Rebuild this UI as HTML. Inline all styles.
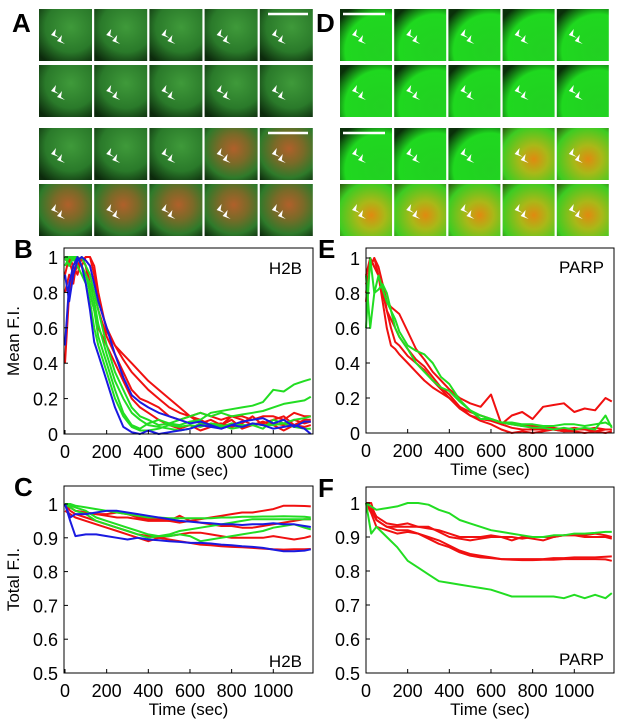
<!DOCTYPE html>
<html><head><meta charset="utf-8"><style>
html,body{margin:0;padding:0;background:#fff;}
svg{display:block;font-family:"Liberation Sans",Arial,sans-serif;}
</style></head><body>
<svg id="fig" width="621" height="727" viewBox="0 0 621 727" xmlns="http://www.w3.org/2000/svg">
<defs>
<radialGradient id="gA" cx="0.6" cy="0.35" r="0.8"><stop offset="0" stop-color="#3f9a3a"/><stop offset="0.6" stop-color="#2a7a2a"/><stop offset="1" stop-color="#0c2a0c"/></radialGradient>
<radialGradient id="gA2" cx="0.55" cy="0.4" r="0.8"><stop offset="0" stop-color="#b0602a"/><stop offset="0.35" stop-color="#7a6a28"/><stop offset="0.7" stop-color="#2e7a2a"/><stop offset="1" stop-color="#0c2a0c"/></radialGradient>
<radialGradient id="gD" cx="0.8" cy="0.8" r="1"><stop offset="0" stop-color="#22d022"/><stop offset="0.7" stop-color="#1fd81f"/><stop offset="1" stop-color="#0a300a"/></radialGradient>
<radialGradient id="gD2" cx="0.6" cy="0.6" r="0.9"><stop offset="0" stop-color="#e08a10"/><stop offset="0.3" stop-color="#a9b818"/><stop offset="0.7" stop-color="#3ccc22"/><stop offset="1" stop-color="#2a3a0a"/></radialGradient>
</defs>
<g id="tiles"></g>
<g id="charts"></g>
</svg>
<script>
// ===== Chart data =====
const timesB = [0,20,40,60,80,100,120,140,160,200,240,280,320,360,400,450,500,550,600,650,700,750,800,850,900,950,1000,1050,1100,1150,1180];
const meanRed1 = [.4,.8,.95,1,.98,1,1,.9,.75,.6,.5,.45,.4,.35,.3,.25,.2,.15,.1,.12,.1,.08,.1,.1,.08,.1,.1,.08,.12,.1,.1];
const meanRed2 = [.9,1,.95,.9,1,.95,.85,.8,.7,.55,.45,.35,.25,.2,.18,.15,.1,.08,.1,.06,.08,.05,.1,.08,.05,.06,.08,.1,.05,.08,.08];
const meanRed3 = [1,.98,.9,.95,1,.95,.8,.7,.6,.5,.4,.3,.2,.15,.12,.08,.05,.03,.05,.02,.04,.05,.08,.03,.05,.07,.05,.02,.05,.04,.05];
const meanRed4 = [.8,.9,.85,1,.95,1,1,.95,.8,.58,.5,.42,.35,.3,.25,.2,.15,.12,.1,.08,.05,.06,.04,.06,.1,.05,.06,.05,.08,.06,.07];
const meanGreen1 = [.95,1,1,.98,1,.95,.9,.8,.7,.5,.35,.25,.15,.1,.08,.05,.06,.05,.07,.08,.12,.13,.14,.15,.16,.18,.25,.24,.28,.3,.31];
const meanGreen2 = [1,1,.98,1,.95,.9,.8,.7,.55,.4,.25,.12,.05,.03,.06,.08,.06,.08,.1,.12,.1,.12,.1,.11,.12,.13,.15,.17,.18,.19,.21];
const meanGreen3 = [.98,1,1,.95,.9,.85,.75,.6,.5,.35,.2,.1,.04,.02,.02,.03,.05,.04,.05,.04,.06,.05,.03,.04,.06,.05,.05,.06,.04,.03,.03];
const meanGreen4 = [1,.95,1,1,.95,.9,.85,.75,.62,.45,.3,.2,.12,.08,.05,.04,.03,.02,.03,.06,.05,.04,.06,.05,.05,.03,.08,.06,.08,.09,.1];
const meanBlue1 = [.5,.85,.95,1,.95,.85,.7,.52,.45,.3,.15,.04,.01,0,.02,0,.01,.02,.03,.05,.04,.03,.05,.04,.06,.05,.03,.04,.05,.03,0];
const meanBlue2 = [.9,.75,.9,.98,1,.98,.95,.85,.75,.6,.45,.32,.22,.18,.15,.12,.1,.08,.06,.07,.05,.03,.05,.07,.08,.09,.06,.08,.04,.07,.07];

const timesC = [0,25,50,100,150,200,250,300,350,400,450,500,550,600,650,700,750,800,850,900,950,1000,1050,1100,1150,1180];
const totRed1 = [1,.99,.98,.975,.97,.965,.96,.96,.955,.95,.95,.95,.945,.95,.955,.96,.965,.97,.975,.975,.98,.985,.995,.995,.994,.993];
const totRed2 = [1,.98,.97,.96,.95,.94,.93,.92,.91,.905,.9,.895,.89,.885,.88,.878,.875,.873,.872,.87,.868,.866,.865,.866,.866,.867];
const totRed3 = [.98,.97,.96,.95,.94,.93,.92,.91,.9,.89,.9,.905,.91,.915,.915,.91,.905,.9,.9,.9,.9,.905,.9,.895,.9,.905];
const totRed4 = [1,.99,.98,.975,.97,.97,.975,.97,.96,.955,.955,.95,.965,.95,.945,.94,.935,.935,.93,.93,.935,.94,.945,.95,.955,.955];
const totBlue1 = [1,.95,.905,.91,.91,.905,.9,.895,.9,.895,.893,.89,.888,.885,.885,.883,.88,.878,.875,.873,.87,.865,.86,.86,.862,.866];
const totBlue2 = [1,.96,.97,.97,.975,.98,.98,.975,.97,.965,.96,.955,.95,.948,.945,.943,.94,.94,.938,.94,.94,.943,.94,.94,.935,.932];
const totGreen1 = [1,1,.995,.99,.985,.98,.975,.97,.965,.96,.96,.958,.958,.958,.958,.958,.96,.96,.962,.962,.963,.963,.964,.963,.962,.96];
const totGreen2 = [1,.99,.98,.97,.95,.94,.93,.92,.91,.9,.905,.91,.92,.925,.93,.935,.94,.945,.95,.955,.955,.955,.955,.955,.955,.955];
const totGreen3 = [1,.995,.99,.98,.96,.95,.94,.93,.92,.91,.905,.905,.91,.905,.89,.895,.9,.905,.91,.915,.92,.93,.935,.94,.93,.925];

const parpMeanRed1 = [.75,1,.95,.9,.8,.7,.65,.6,.55,.48,.42,.38,.32,.26,.22,.15,.12,.1,.08,.06,.05,.04,.04,.03,.03,.02,.03,.02,.03,.02,.02];
const parpMeanRed2 = [.9,1,.95,.9,.75,.6,.5,.48,.45,.4,.35,.3,.26,.23,.2,.14,.1,.08,.07,.05,.03,.02,.02,.02,.02,.01,.02,.02,.01,.02,.02];
const parpMeanRed3 = [.8,.95,1,.9,.85,.75,.72,.7,.68,.58,.48,.42,.35,.3,.25,.2,.17,.15,.22,.05,.1,.12,.08,.15,.16,.17,.12,.14,.13,.2,.18];
const parpMeanRed4 = [.85,.95,1,.95,.85,.7,.6,.52,.5,.44,.4,.36,.3,.25,.2,.15,.1,.07,.05,.02,0,.01,0,.01,.02,.01,.01,0,.01,0,.01];
const parpMeanGreen1 = [.6,1,.8,.82,.85,.8,.7,.6,.55,.48,.4,.35,.3,.26,.24,.18,.13,.08,.08,.06,.06,.05,.05,.04,.04,.05,.05,.04,.05,.06,.04];
const parpMeanGreen2 = [.9,.6,.8,.9,.82,.75,.7,.65,.58,.5,.47,.45,.4,.32,.28,.19,.13,.1,.08,.06,.05,.04,.03,.03,.02,.03,.02,.03,.02,.1,.03];

const parpTotGreen1 = [1,.99,.98,.985,.99,1,1,.995,.98,.97,.95,.94,.93,.92,.915,.91,.905,.9,.9,.905,.905,.91,.91,.912,.915,.915];
const parpTotGreen2 = [1,.91,.93,.9,.87,.83,.81,.79,.77,.765,.76,.755,.75,.745,.735,.725,.725,.725,.725,.725,.72,.73,.72,.73,.72,.735];
const parpTotRed1 = [1,.99,.96,.94,.935,.94,.93,.925,.92,.91,.9,.9,.9,.905,.9,.9,.895,.9,.9,.9,.905,.905,.9,.9,.9,.895];
const parpTotRed2 = [1,.98,.95,.93,.93,.93,.93,.93,.915,.9,.895,.89,.895,.9,.9,.89,.9,.895,.89,.9,.905,.905,.905,.91,.905,.9];
const parpTotRed3 = [1,.97,.93,.92,.91,.915,.91,.895,.88,.87,.855,.845,.84,.838,.835,.835,.835,.835,.835,.838,.838,.84,.84,.84,.842,.843];
const parpTotRed4 = [1,1,.95,.93,.92,.92,.91,.9,.89,.875,.86,.85,.845,.84,.835,.833,.832,.832,.833,.833,.835,.835,.835,.835,.834,.83];

const xTicks = [0,200,400,600,800,1000];
const xTickLabels = ["0","200","400","600","800","1000"];
const meanTicks = [0,0.2,0.4,0.6,0.8,1];
const meanTickLabels = ["0","0.2","0.4","0.6","0.8","1"];
const totTicks = [0.5,0.6,0.7,0.8,0.9,1];
const totTickLabels = ["0.5","0.6","0.7","0.8","0.9","1"];

const NS = "http://www.w3.org/2000/svg";
const RED = "#f01010", GREEN = "#22dd22", BLUE = "#1a1ae0";

function mk(tag, attrs, parent){
  const e = document.createElementNS(NS, tag);
  for (const k in attrs) e.setAttribute(k, attrs[k]);
  parent.appendChild(e);
  return e;
}

// ===== Image tiles =====
const tilesG = document.getElementById('tiles');
const rowsY = [9, 65, 128, 184];
function drawTiles(x0, step, w, fills, prefix){
  for (let r = 0; r < 4; r++){
    for (let c = 0; c < 5; c++){
      const x = x0 + c * step, y = rowsY[r];
      const fill = fills[r][c];
      const rect = mk('rect', {x:x, y:y, width:w, height:52, fill:fill}, tilesG);
      
      
      const ax = x + 12, ay = y + 26;
      const a1 = mk('path', {d:`M${ax} ${ay} l5 -6 l-1 6 l4 3 z`, fill:'#fff'}, tilesG);
      
      
      const a2 = mk('path', {d:`M${ax+6} ${ay+6} l5 -6 l-1 6 l4 3 z`, fill:'#fff'}, tilesG);
      
      
    }
  }
}
const A = 'url(#gA)', A2 = 'url(#gA2)', D = 'url(#gD)', D2 = 'url(#gD2)';
drawTiles(39, 55.2, 53, [[A,A,A,A,A],[A,A,A,A,A],[A,A,A,A2,A2],[A2,A2,A2,A2,A2]], 'h2b');
drawTiles(340, 54.2, 52, [[D,D,D,D,D],[D,D,D,D,D],[D,D,D,D2,D2],[D2,D2,D2,D2,D2]], 'parp');
[[268,14,308],[268,133,308],[343,14,385],[343,133,385]].forEach(s=>{
  const l = mk('line',{x1:s[0],y1:s[1],x2:s[2],y2:s[1],stroke:'#fff','stroke-width':2.5},tilesG);
  
  
});

// ===== Charts =====
const charts = document.getElementById('charts');
function text(x, y, s, size, anchor, weight, parent, name){
  const t = mk('text', {x:x, y:y, 'font-size':size, 'text-anchor':anchor||'start', 'font-weight':weight||'normal', fill:'#000'}, parent);
  t.textContent = s;
  
  
  return t;
}
function chart(cfg){
  const g = mk('g', {}, charts);
  
  
  const xS = t => cfg.x0 + t * cfg.xk;
  const yS = v => cfg.yBot + (v - cfg.vmin) / (cfg.vmax - cfg.vmin) * (cfg.yV1 - cfg.yBot);
  cfg.series.forEach(s => {
    const pts = s.vals.map((v,i) => xS(s.t[i]).toFixed(1) + ',' + yS(v).toFixed(1)).join(' ');
    const p = mk('polyline', {points:pts, fill:'none', stroke:s.c, 'stroke-width':2, 'stroke-linejoin':'round'}, g);
    
    
  });
  const box = mk('rect', {x:cfg.bx1, y:cfg.by1, width:cfg.bx2-cfg.bx1, height:cfg.yBot-cfg.by1, fill:'none', stroke:'#000', 'stroke-width':1}, g);
  
  
  xTicks.forEach((t,i) => {
    const x = xS(t);
    const tk = mk('line', {x1:x, y1:cfg.yBot, x2:x, y2:cfg.yBot-4, stroke:'#000'}, g);
    
    
    text(x, cfg.yBot + 24, xTickLabels[i], 18, 'middle', 'normal', g, 'x-tick-label');
  });
  cfg.yTicks.forEach((v,i) => {
    const y = yS(v);
    const tk = mk('line', {x1:cfg.bx1, y1:y, x2:cfg.bx1+4, y2:y, stroke:'#000'}, g);
    
    
    text(cfg.bx1 - 6, y + 7, cfg.yLabels[i], 18, 'end', 'normal', g, 'y-tick-label');
  });
  text((cfg.bx1+cfg.bx2)/2, cfg.yBot + 42, 'Time (sec)', 17, 'middle', 'normal', g, 'x-axis-title');
  if (cfg.ytitle){
    const t = text(0, 0, cfg.ytitle, 17, 'middle', 'normal', g, 'y-axis-title');
    t.setAttribute('transform', `translate(19,${(cfg.by1+cfg.yBot)/2}) rotate(-90)`);
  }
  text(cfg.lx, cfg.ly, cfg.label, 17, 'end', 'normal', g, 'protein-label');
  text(cfg.px, cfg.by1 + 10, cfg.panel, 26, 'start', 'bold', g, 'panel-label');
}
const S = (t, vals, c, n) => ({t, vals, c, n});
chart({name:'chart-b-h2b-mean', panel:'B', px:14, x0:65, xk:0.2083, bx1:64, bx2:313, by1:248, yBot:434, yV1:257, vmin:0, vmax:1,
  yTicks:meanTicks, yLabels:meanTickLabels, ytitle:'Mean F.I.', label:'H2B', lx:302, ly:274,
  series:[S(timesB,meanRed1,RED,'red-series'),S(timesB,meanRed2,RED,'red-series'),S(timesB,meanRed3,RED,'red-series'),S(timesB,meanRed4,RED,'red-series'),
    S(timesB,meanGreen1,GREEN,'green-series'),S(timesB,meanGreen2,GREEN,'green-series'),S(timesB,meanGreen3,GREEN,'green-series'),S(timesB,meanGreen4,GREEN,'green-series'),
    S(timesB,meanBlue1,BLUE,'blue-series'),S(timesB,meanBlue2,BLUE,'blue-series')]});
chart({name:'chart-c-h2b-total', panel:'C', px:14, x0:65, xk:0.2083, bx1:64, bx2:313, by1:486, yBot:673, yV1:504, vmin:0.5, vmax:1,
  yTicks:totTicks, yLabels:totTickLabels, ytitle:'Total F.I.', label:'H2B', lx:302, ly:667,
  series:[S(timesC,totRed1,RED,'red-series'),S(timesC,totRed2,RED,'red-series'),S(timesC,totRed3,RED,'red-series'),S(timesC,totRed4,RED,'red-series'),
    S(timesC,totGreen1,GREEN,'green-series'),S(timesC,totGreen2,GREEN,'green-series'),S(timesC,totGreen3,GREEN,'green-series'),
    S(timesC,totBlue1,BLUE,'blue-series'),S(timesC,totBlue2,BLUE,'blue-series')]});
chart({name:'chart-e-parp-mean', panel:'E', px:318, x0:366, xk:0.2083, bx1:366, bx2:614, by1:248, yBot:433, yV1:258, vmin:0, vmax:1,
  yTicks:meanTicks, yLabels:meanTickLabels, ytitle:null, label:'PARP', lx:604, ly:273,
  series:[S(timesB,parpMeanRed1,RED,'red-series'),S(timesB,parpMeanRed2,RED,'red-series'),S(timesB,parpMeanRed3,RED,'red-series'),S(timesB,parpMeanRed4,RED,'red-series'),
    S(timesB,parpMeanGreen1,GREEN,'green-series'),S(timesB,parpMeanGreen2,GREEN,'green-series')]});
chart({name:'chart-f-parp-total', panel:'F', px:318, x0:366, xk:0.2083, bx1:366, bx2:614, by1:487, yBot:673, yV1:503, vmin:0.5, vmax:1,
  yTicks:totTicks, yLabels:totTickLabels, ytitle:null, label:'PARP', lx:604, ly:665,
  series:[S(timesC,parpTotRed1,RED,'red-series'),S(timesC,parpTotRed2,RED,'red-series'),S(timesC,parpTotRed3,RED,'red-series'),S(timesC,parpTotRed4,RED,'red-series'),
    S(timesC,parpTotGreen1,GREEN,'green-series'),S(timesC,parpTotGreen2,GREEN,'green-series')]});
text(12, 32, 'A', 26, 'start', 'bold', charts, 'panel-label');
text(316, 32, 'D', 26, 'start', 'bold', charts, 'panel-label');
</script>
</body></html>
